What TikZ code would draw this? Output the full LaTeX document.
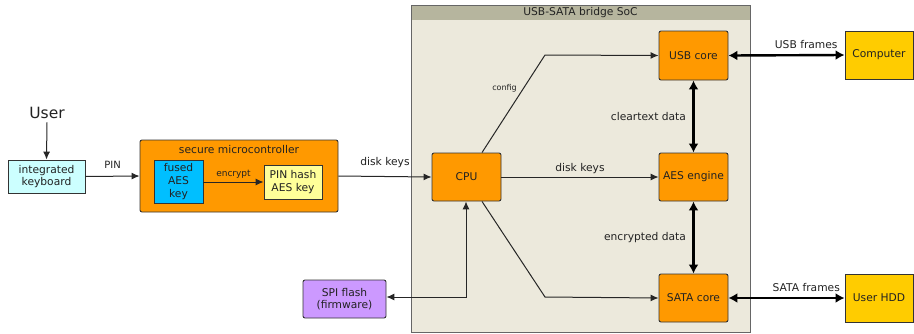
\documentclass[tikz,border=0pt]{standalone}
\usepackage{fontspec}
\setmainfont{DejaVu Sans}
\usetikzlibrary{arrows.meta,calc}
\definecolor{orng}{HTML}{FF9900}
\definecolor{bord}{HTML}{333333}
\definecolor{socbg}{HTML}{ECE9DC}
\definecolor{soctitle}{HTML}{B6B59E}
\definecolor{kbd}{HTML}{CCFFFF}
\definecolor{fused}{HTML}{00BFFF}
\definecolor{pinh}{HTML}{FFFF99}
\definecolor{ext}{HTML}{FFCC00}
\definecolor{spi}{HTML}{CC99FF}
\definecolor{txt}{HTML}{222222}
\begin{document}
\begin{tikzpicture}[x=1pt,y=-1pt,
  every node/.style={text=txt,font=\fontsize{10.7}{12.7}\selectfont},
  blk/.style={draw=bord,line width=0.9pt,rounded corners=2pt,fill=orng,inner sep=0pt,align=center},
  extbox/.style={draw=bord,line width=0.9pt,fill=ext,inner sep=0pt,minimum width=68pt,minimum height=48pt,align=center},
  thin/.style={draw=black!85,line width=1pt,-{Latex[length=8pt,width=7pt]}},
  thinboth/.style={draw=black!85,line width=1pt,{Latex[length=8pt,width=7pt]}-{Latex[length=8pt,width=7pt]}},
  thick/.style={draw=black,line width=2.4pt,{Latex[length=9pt,width=10pt]}-{Latex[length=9pt,width=10pt]}},
  lbl/.style={font=\fontsize{10}{12}\selectfont}
]
\useasboundingbox (0,0) rectangle (914,333);
% SoC
\fill[socbg] (411,5) rectangle (750,332);
\fill[soctitle] (411,5) rectangle (750,20);
\draw[draw=black!60,line width=0.9pt] (411,5) rectangle (750,332);
\node (soct) at (580.5,12.5) {USB-SATA bridge SoC};

% SoC blocks
\node[blk,minimum width=69pt,minimum height=49pt] (usb) at (693.5,55.5) {USB core};
\node[blk,minimum width=69pt,minimum height=48pt] (aes) at (693.5,177) {AES engine};
\node[blk,minimum width=69pt,minimum height=48pt] (sata) at (693.5,298) {SATA core};
\node[blk,minimum width=69pt,minimum height=48pt] (cpu) at (466.5,177) {CPU};

% external
\node[extbox] (comp) at (879,55) {Computer};
\node[extbox] (hdd) at (879,298) {User HDD};

% left side
\node[font=\fontsize{15.5}{18}\selectfont] (user) at (47,113) {User};
\node[draw=bord,line width=0.9pt,fill=kbd,minimum width=77pt,minimum height=33pt,inner sep=0pt,align=center] (kbd) at (46.5,176.5) {integrated\\keyboard};
\node[blk,minimum width=198pt,minimum height=72pt] (mcu) at (239,176) {};
\node (mcut) at (239,150) {secure microcontroller};
\node[draw=bord,line width=0.9pt,fill=fused,minimum width=49pt,minimum height=43pt,inner sep=0pt,align=center] (fused) at (178.5,181.5) {fused\\AES\\key};
\node[draw=bord,line width=0.9pt,fill=pinh,minimum width=58pt,minimum height=34pt,inner sep=0pt,align=center] (pinh) at (293,182) {PIN hash\\AES key};
\node[blk,fill=spi,minimum width=83pt,minimum height=38pt] (spif) at (344.5,299) {SPI flash\\(firmware)};

\coordinate (cfgk) at (545,55);
\coordinate (satk) at (545,297);
\coordinate (spik) at (466,297);

% connectors
\draw[thin] (user.south) -- (kbd.north);
\draw[thin] (kbd.east) -- node[above=4pt,lbl] {PIN} (mcu.west);
\draw[thin] (fused.east|-pinh) -- node[above,font=\fontsize{9}{10}\selectfont] {encrypt} (pinh.west);
\draw[thin] (mcu.east) -- node[above=5pt] {disk keys} (cpu.west);
\draw[thin] (cpu.east) -- node[above=-0.5pt] {disk keys} (aes.west);
\draw[thin] (cpu.north-|482,0) -- node[pos=0.66,left=3pt,font=\fontsize{8}{9}\selectfont] {config} (cfgk) -- (usb.west);
\draw[thin] (cpu.south-|482,0) -- (satk) -- (sata.west);
\draw[thinboth] (spif.east|-spik) -- (spik) -- (cpu.south-|spik);
\draw[thick] (usb.south) -- node[left=3pt] {cleartext data} (aes.north);
\draw[thick] (aes.south) -- node[left=3pt] {encrypted data} (sata.north);
\draw[thick] (usb.east) -- node[above=2pt,pos=0.67] {USB frames} (comp.west);
\draw[thick] (sata.east) -- node[above=2pt,pos=0.67] {SATA frames} (hdd.west);
\end{tikzpicture}
\end{document}
